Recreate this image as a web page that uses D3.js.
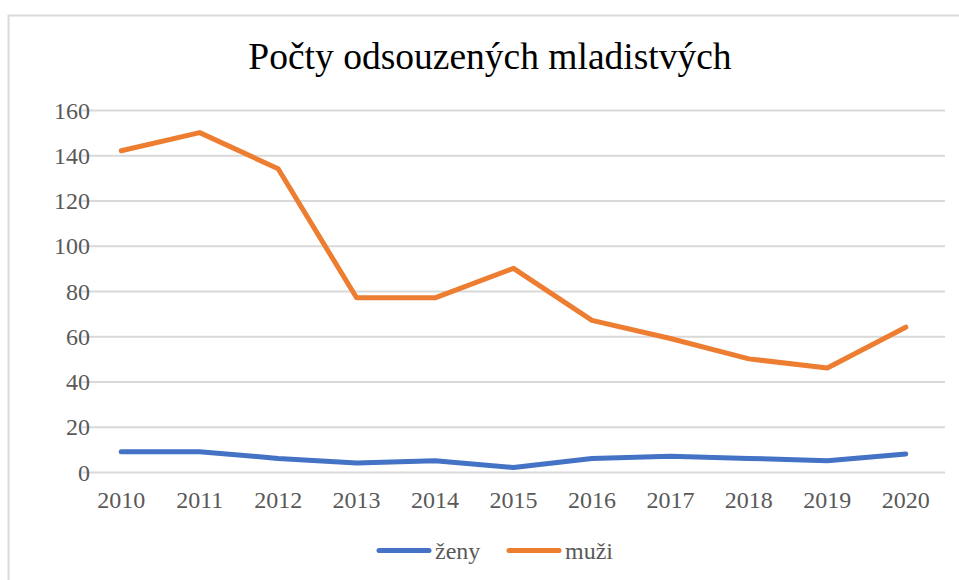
<!DOCTYPE html>
<html>
<head>
<meta charset="utf-8">
<script src="https://cdn.jsdelivr.net/npm/d3@7"></script>
<style>
  body { margin: 0; background: #fff; }
</style>
</head>
<body>
<div id="chart"></div>
<script>
// data
var years = ["2010", "2011", "2012", "2013", "2014", "2015", "2016", "2017", "2018", "2019", "2020"];
var zeny = [9, 9, 6, 4, 5, 2, 6, 7, 6, 5, 8];
var muzi = [142, 150, 134, 77, 77, 90, 67, 59, 50, 46, 64];
var yTicks = [0, 20, 40, 60, 80, 100, 120, 140, 160];
var seriesNames = ["ženy", "muži"];
var seriesColors = ["#4472C4", "#ED7D31"];

var w = 959, h = 580;
var fontStack = "'Liberation Serif', 'Times New Roman', serif";

var svg = d3.select("#chart").append("svg")
  .attr("width", w)
  .attr("height", h)
  .style("font-family", fontStack);

// chart frame
svg.append("path")
  .attr("d", "M8.5," + h + "V15.5H" + w)
  .attr("fill", "none")
  .attr("stroke", "#d9d9d9")
  .attr("stroke-width", 2);

// title
svg.append("text")
  .attr("x", 490)
  .attr("y", 69)
  .attr("text-anchor", "middle")
  .style("font-size", "37.5px")
  .style("font-family", fontStack)
  .attr("fill", "#000")
  .text("Počty odsouzených mladistvých");

var x = d3.scaleBand().domain(years).range([82, 945]);
var y = d3.scaleLinear().domain([0, 160]).range([472, 110]);

// gridlines
svg.append("g")
  .selectAll("line")
  .data(yTicks)
  .enter()
  .append("line")
  .attr("x1", 82)
  .attr("x2", 945)
  .attr("y1", function(d) { return y(d) + 0.5; })
  .attr("y2", function(d) { return y(d) + 0.5; })
  .attr("stroke", "#d9d9d9")
  .attr("stroke-width", 2);

// y axis labels
var yAxis = d3.axisLeft(y).tickValues(yTicks).tickSize(0).tickPadding(0);
var gy = svg.append("g")
  .attr("transform", "translate(90,0)")
  .call(yAxis);
gy.select(".domain").remove();
gy.selectAll("text")
  .style("font-family", fontStack)
  .style("font-size", "24px")
  .attr("dy", "0.34em")
  .attr("fill", "#595959");

// x axis labels
var xAxis = d3.axisBottom(x).tickSize(0).tickPadding(0);
var gx = svg.append("g")
  .attr("transform", "translate(0,508)")
  .call(xAxis);
gx.select(".domain").remove();
gx.selectAll("text")
  .style("font-family", fontStack)
  .style("font-size", "24px")
  .attr("dy", 0)
  .attr("fill", "#595959");

// lines
var line = d3.line()
  .x(function(d, i) { return x(years[i]) + x.bandwidth() / 2; })
  .y(function(d) { return y(d); });

[zeny, muzi].forEach(function(s, i) {
  svg.append("path")
    .datum(s)
    .attr("d", line)
    .attr("fill", "none")
    .attr("stroke", seriesColors[i])
    .attr("stroke-width", 5)
    .attr("stroke-linecap", "round")
    .attr("stroke-linejoin", "round");
});

// legend
var legendX = [379, 509];
var legend = svg.append("g");
seriesNames.forEach(function(name, i) {
  legend.append("line")
    .attr("x1", legendX[i])
    .attr("x2", legendX[i] + 50)
    .attr("y1", 550.5)
    .attr("y2", 550.5)
    .attr("stroke", seriesColors[i])
    .attr("stroke-width", 5)
    .attr("stroke-linecap", "round");
  legend.append("text")
    .attr("x", legendX[i] + 56)
    .attr("y", 559)
    .style("font-family", fontStack)
    .style("font-size", "24px")
    .attr("fill", "#595959")
    .text(name);
});
</script>
</body>
</html>
